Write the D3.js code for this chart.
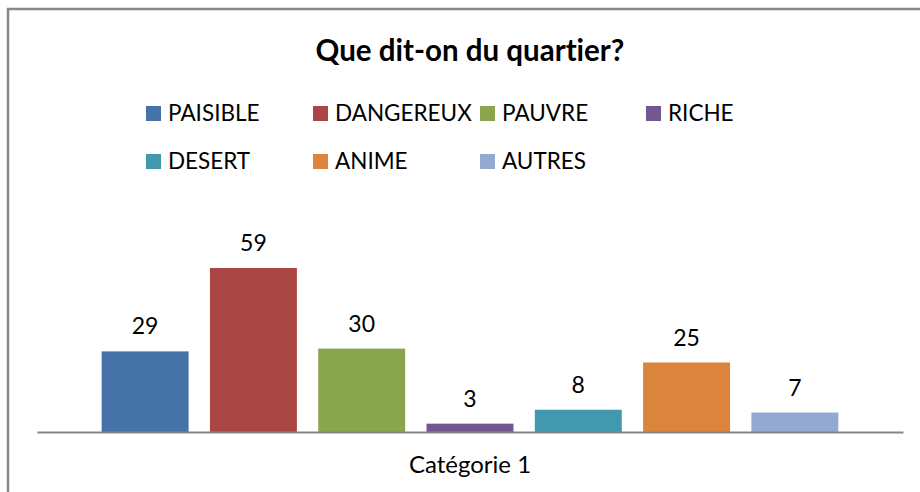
<!DOCTYPE html>
<html>
<head>
<meta charset="utf-8">
<script src="https://cdn.jsdelivr.net/npm/d3@7"></script>
<style>
  body { margin: 0; background: #fff; }
  svg { display: block; font-family: Lato, "Open Sans", sans-serif; font-variant-ligatures: none; }
</style>
</head>
<body>
<svg></svg>
<script>
// Data
const series = ["PAISIBLE", "DANGEREUX", "PAUVRE", "RICHE", "DESERT", "ANIME", "AUTRES"];
const values = [29, 59, 30, 3, 8, 25, 7];
const colors = ["#4572A7", "#AA4643", "#89A54E", "#71588F", "#4198AF", "#DB843D", "#93A9CF"];
const category = "Catégorie 1";
const title = "Que dit-on du quartier?";

const width = 920, height = 492;
const svg = d3.select("svg").attr("width", width).attr("height", height);

// Chart frame (only top and left edges are visible in the crop)
svg.append("path")
    .attr("d", "M8,492 L8,9 L920,9")
    .attr("fill", "none")
    .attr("stroke", "#878787")
    .attr("stroke-width", 2.5);

// Title
svg.append("text")
    .attr("x", 470)
    .attr("y", 61)
    .attr("text-anchor", "middle")
    .attr("font-weight", "bold")
    .attr("font-size", 29.5)
    .attr("fill", "#000")
    .text(title);

// Legend
const legendCols = [146, 313, 480, 646];
const legend = svg.append("g")
    .selectAll("g")
    .data(series)
    .enter().append("g")
    .attr("transform", (d, i) => `translate(${legendCols[i % 4]},${i < 4 ? 106 : 154})`);

legend.append("rect")
    .attr("width", 15)
    .attr("height", 15)
    .attr("fill", (d, i) => colors[i]);

legend.append("text")
    .attr("x", 22)
    .attr("y", 15)
    .attr("font-size", 22.5)
    .attr("fill", "#000")
    .text(d => d);

// Scales
const x = d3.scaleBand()
    .domain(series)
    .range([37, 903])
    .paddingInner(0.197)
    .paddingOuter(0.597);

const y = d3.scaleLinear()
    .domain([0, 70])
    .range([432, 237.4]);

// Bars
svg.append("g")
    .selectAll("rect")
    .data(series)
    .enter().append("rect")
    .attr("x", d => x(d))
    .attr("y", (d, i) => y(values[i]))
    .attr("width", x.bandwidth())
    .attr("height", (d, i) => y(0) - y(values[i]))
    .attr("fill", (d, i) => colors[i]);

// Data labels
svg.append("g")
    .selectAll("text")
    .data(series)
    .enter().append("text")
    .attr("x", d => x(d) + x.bandwidth() / 2)
    .attr("y", (d, i) => y(values[i]) - 17)
    .attr("text-anchor", "middle")
    .attr("font-size", 23)
    .attr("fill", "#000")
    .text((d, i) => values[i]);

// Category axis
const xAxis = d3.scaleBand().domain([category]).range([37, 903]);
const axisG = svg.append("g")
    .attr("transform", "translate(0,432)")
    .call(d3.axisBottom(xAxis).tickSize(0).tickPadding(24));
axisG.select(".domain")
    .attr("stroke", "#878787")
    .attr("stroke-width", 2.2);
axisG.selectAll(".tick text")
    .attr("font-family", "Lato, 'Open Sans', sans-serif")
    .attr("font-size", 24)
    .attr("fill", "#000");
</script>
</body>
</html>
